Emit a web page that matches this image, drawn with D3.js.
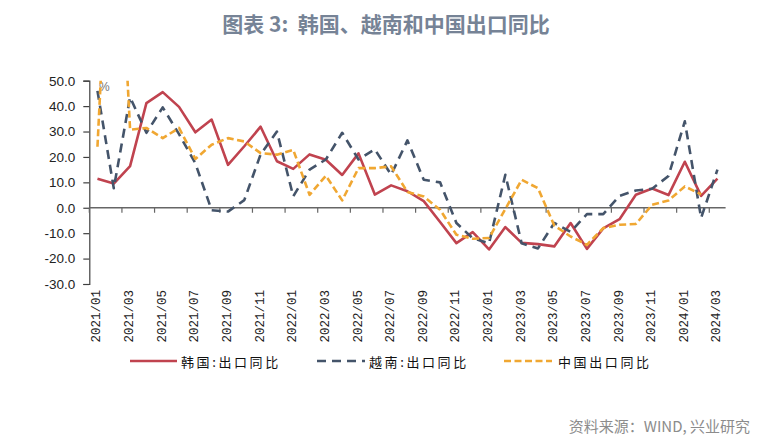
<!DOCTYPE html>
<html><head><meta charset="utf-8">
<script src="https://cdn.jsdelivr.net/npm/d3@7"></script>
<style>body{margin:0;background:#fff} text{white-space:pre}</style>
</head><body><svg id="c" width="783" height="444"></svg>
<script>
const categories = ["2021/01","2021/02","2021/03","2021/04","2021/05","2021/06","2021/07","2021/08","2021/09","2021/10","2021/11","2021/12",
"2022/01","2022/02","2022/03","2022/04","2022/05","2022/06","2022/07","2022/08","2022/09","2022/10","2022/11","2022/12",
"2023/01","2023/02","2023/03","2023/04","2023/05","2023/06","2023/07","2023/08","2023/09","2023/10","2023/11","2023/12",
"2024/01","2024/02","2024/03"];
const tickLabels = ["2021/01","2021/03","2021/05","2021/07","2021/09","2021/11","2022/01","2022/03","2022/05","2022/07",
"2022/09","2022/11","2023/01","2023/03","2023/05","2023/07","2023/09","2023/11","2024/01","2024/03"];
const korea = [11.4, 9.5, 16.4, 41.2, 45.5, 39.7, 29.7, 34.7, 16.9, 24.2, 31.9, 18.3, 15.3, 21.0, 18.9, 12.9, 21.4, 5.2, 8.8, 6.5,
  2.6, -5.6, -13.9, -9.6, -16.4, -7.6, -13.8, -14.3, -15.2, -6.0, -16.2, -8.1, -4.5, 5.1, 7.6, 5.0, 18.1, 4.7, 11.5];
const vietnam = [46, 7.7, 43.5, 29.5, 39.5, 29, 17.5, -1.0, -1.5, 3, 21, 30, 4.5, 15, 19, 29.5, 19, 23, 13, 26.5,
  11, 10, -6, -12, -14, 13, -14, -16, -6, -9.5, -2.5, -2.5, 4.7, 6.8, 7.5, 12.5, 34, -4, 15];
const china = [24, 154.9, 30.7, 31.4, 27.4, 31.4, 19.2, 24.8, 27.4, 26.1, 21.5, 20.9, 22.8, 5.1, 12.6, 2.9, 15.6, 15.6, 16.3, 6.2,
  4.4, -0.8, -10.6, -12.2, -11.9, -0.5, 11.0, 7.7, -7, -11.3, -14.6, -8.0, -6.7, -6.4, 1.2, 2.9, 8.4, 5.3, null];
const yTicks = [-30, -20, -10, 0, 10, 20, 30, 40, 50];
const seriesNames = ["韩国:出口同比", "越南:出口同比", "中国出口同比"];

const svg = d3.select("#c");
const x = d3.scaleBand().domain(categories).range([89.3, 725.6]).padding(0);
const xc = d => x(d) + x.bandwidth() / 2;
const y = d3.scaleLinear().domain([-30, 50]).range([284, 80.7]);

// title
svg.append("text").attr("x", 386).attr("y", 23).attr("text-anchor", "middle").attr("dominant-baseline", "central")
  .attr("font-family", "'Noto Sans CJK SC'").attr("font-weight", "bold").attr("font-size", 21).attr("fill", "#768396")
  .text("图表 3:  韩国、越南和中国出口同比");

// y axis
const ya = svg.append("g").attr("transform", "translate(89.3,0)")
  .call(d3.axisLeft(y).tickValues(yTicks).tickFormat(d => d.toFixed(1)).tickSize(6).tickPadding(8));
ya.select(".domain").attr("stroke", "#404040").attr("stroke-width", 1.2);
ya.selectAll(".tick line").attr("stroke", "#404040").attr("stroke-width", 1.2);
ya.selectAll(".tick text").attr("font-family", "'Liberation Sans', Arial").attr("font-size", 13.5).attr("fill", "#222");

// x axis line at zero
const xg = svg.append("g");
xg.append("line").attr("x1", 89.3).attr("x2", 725.6).attr("y1", y(0)).attr("y2", y(0))
  .attr("stroke", "#666").attr("stroke-width", 1.3);
xg.selectAll("line.t").data(tickLabels).join("line").attr("class", "t")
  .attr("x1", d => x(d)).attr("x2", d => x(d)).attr("y1", y(0)).attr("y2", y(0) + 5)
  .attr("stroke", "#666").attr("stroke-width", 1.2);
xg.selectAll("text").data(tickLabels).join("text")
  .attr("transform", d => `translate(${xc(d)},290) rotate(-90)`)
  .attr("text-anchor", "end").attr("dominant-baseline", "central")
  .attr("font-family", "'Liberation Mono', monospace").attr("font-size", 12.5).attr("fill", "#222")
  .text(d => d);

// % label
svg.append("text").attr("x", 99).attr("y", 91).attr("font-family", "'Liberation Sans', Arial")
  .attr("font-size", 12).attr("fill", "#777").text("%");

// clip
svg.append("clipPath").attr("id", "clip").append("rect")
  .attr("x", 89.3).attr("y", y(50)).attr("width", 725.6 - 89.3).attr("height", y(-30) - y(50));

const line = d3.line().defined(d => d != null).x((d, i) => xc(categories[i])).y(d => y(d));
const styles = [
  {data: korea, color: "#c0434f", dash: null},
  {data: vietnam, color: "#44546a", dash: "9,6"},
  {data: china, color: "#f0a732", dash: "7,3.5"}
];
const pg = svg.append("g").attr("clip-path", "url(#clip)");
styles.forEach(s => {
  pg.append("path").datum(s.data).attr("d", line).attr("fill", "none")
    .attr("stroke", s.color).attr("stroke-width", 2.6).attr("stroke-linejoin", "round")
    .attr("stroke-dasharray", s.dash);
});

// legend
const legX = [[130, 177, 181], [317, 365, 369], [504, 552, 558]];
const lg = svg.append("g");
styles.forEach((s, i) => {
  const [a, b, t] = legX[i];
  lg.append("line").attr("x1", a).attr("x2", b).attr("y1", 361).attr("y2", 361)
    .attr("stroke", s.color).attr("stroke-width", 2.6).attr("stroke-dasharray", s.dash);
  lg.append("text").attr("x", t).attr("y", 361).attr("dominant-baseline", "central")
    .attr("font-family", "'Noto Sans CJK SC'").attr("font-size", 13).attr("letter-spacing", 2.6)
    .attr("fill", "#111").text(seriesNames[i]);
});

// source
svg.append("text").attr("x", 750).attr("y", 425).attr("text-anchor", "end").attr("dominant-baseline", "central")
  .attr("font-family", "'Noto Sans CJK SC'").attr("font-size", 15).attr("fill", "#8c8c8c")
  .text("资料来源：WIND, 兴业研究");
</script>
</body></html>
